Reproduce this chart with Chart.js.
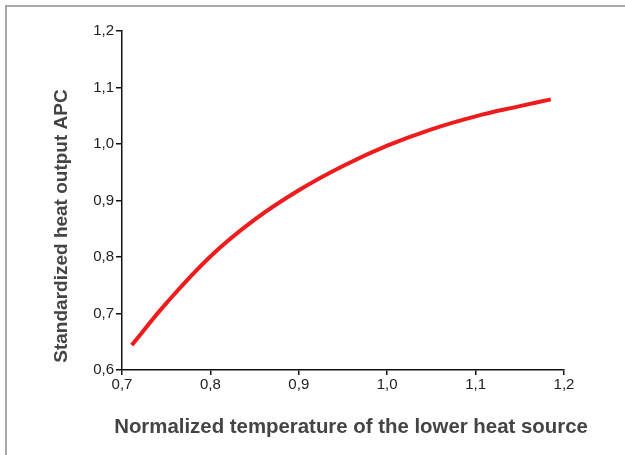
<!DOCTYPE html>
<html>
<head>
<meta charset="utf-8">
<script src="https://cdn.jsdelivr.net/npm/chart.js@4/dist/chart.umd.min.js"></script>
<style>
  html, body { margin: 0; padding: 0; background: #fff; }
  #wrap { position: relative; width: 625px; height: 455px; }
  #frame { position: absolute; left: 5px; top: 5px; right: 0; bottom: 0;
           border-left: 2px solid #a8a8a8; border-top: 2px solid #a8a8a8; }
  canvas { position: absolute; left: 0; top: 0; }
</style>
</head>
<body>
<div id="wrap">
  <div id="frame"></div>
  <canvas id="chart" width="625" height="455"></canvas>
</div>
<script>
// normalized temperature of the lower heat source
const temps = [0.711, 0.75, 0.8, 0.85, 0.9, 0.95, 1.0, 1.05, 1.1, 1.15, 1.185];
// standardized heat output APC
const output = [0.644, 0.718, 0.801, 0.866, 0.918, 0.961, 0.997, 1.026, 1.049, 1.067, 1.079];

const xTitle = "Normalized temperature of the lower heat source";
const yTitle = "Standardized heat output APC";

const fmt = (v) => v.toFixed(1).replace(".", ",");
const fontFamily = "'Liberation Sans', Arial, sans-serif";

// axis titles drawn at fixed spots like the original
const titlePlugin = {
  id: "titles",
  afterDraw(chart) {
    const ctx = chart.ctx;
    ctx.save();
    ctx.fillStyle = "#444";
    ctx.textAlign = "center";
    ctx.textBaseline = "middle";
    ctx.font = "bold 20.4px " + fontFamily;
    ctx.fillText(xTitle, 351, 427);
    ctx.font = "bold 19px " + fontFamily;
    ctx.translate(62, 226);
    ctx.rotate(-Math.PI / 2);
    ctx.fillText(yTitle, 0, 0);
    ctx.restore();
  }
};

new Chart(document.getElementById("chart"), {
  type: "line",
  data: {
    datasets: [{
      data: temps.map((t, i) => ({ x: t, y: output[i] })),
      borderColor: "#ee1c1c",
      borderWidth: 4,
      pointRadius: 0,
      tension: 0.4,
      fill: false
    }]
  },
  options: {
    responsive: false,
    animation: false,
    layout: { padding: { left: 72, right: 61, top: 31, bottom: 0 } },
    plugins: { legend: { display: false }, tooltip: { enabled: false } },
    scales: {
      x: {
        type: "linear",
        min: 0.7,
        max: 1.2,
        afterFit: (s) => { s.height = 85; },
        ticks: {
          stepSize: 0.1,
          callback: (v) => fmt(v),
          color: "#222",
          padding: 1,
          font: { family: fontFamily, size: 15 }
        },
        grid: { drawOnChartArea: false, tickLength: 5, color: "#111", lineWidth: 1.5 },
        border: { color: "#111", width: 1.5 }
      },
      y: {
        min: 0.6,
        max: 1.2,
        afterFit: (s) => { s.width = 50; },
        ticks: {
          stepSize: 0.1,
          callback: (v) => fmt(v),
          color: "#222",
          padding: 2,
          font: { family: fontFamily, size: 15 }
        },
        grid: { drawOnChartArea: false, tickLength: 6, color: "#111", lineWidth: 1.5 },
        border: { color: "#111", width: 1.5 }
      }
    }
  },
  plugins: [titlePlugin]
});
</script>
</body>
</html>
